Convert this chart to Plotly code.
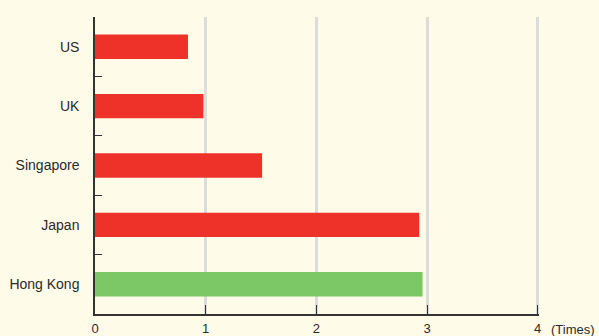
import plotly.graph_objects as go

categories = ["US", "UK", "Singapore", "Japan", "Hong Kong"]
values = [0.84, 0.98, 1.51, 2.93, 2.96]
colors = ["#ee3129", "#ee3129", "#ee3129", "#ee3129", "#7dc866"]
x_ticks = [0, 1, 2, 3, 4]
x_unit = "(Times)"

fig = go.Figure(go.Bar(
    x=values, y=categories, orientation="h",
    marker=dict(color=colors, line=dict(width=0)),
    width=0.41,
))

fig.update_layout(
    width=599, height=336,
    margin=dict(l=95, r=60, t=17, b=22, autoexpand=False),
    paper_bgcolor="#fffbe9", plot_bgcolor="#fffbe9",
    font=dict(family="Liberation Sans, Arial, sans-serif", size=14, color="#2a2a2a"),
    showlegend=False,
    xaxis=dict(
        range=[0, 4.012], tickvals=x_ticks, ticktext=[str(t) for t in x_ticks],
        showgrid=True, gridcolor="#dcdcdc", gridwidth=2.5,
        zeroline=False, showline=True, linecolor="#333", linewidth=1.5,
        ticks="inside", ticklen=9, tickcolor="#333", tickwidth=1.2,
        automargin=False, ticklabelstandoff=2, tickfont=dict(size=13),
        fixedrange=True,
    ),
    yaxis=dict(
        categoryorder="array", categoryarray=categories, autorange="reversed",
        tickson="boundaries", ticks="inside", ticklen=7, tickcolor="#333", tickwidth=1.2,
        showline=True, linecolor="#333", linewidth=1.5, showgrid=False,
        ticklabelstandoff=11, automargin=False,
    ),
    annotations=[dict(
        text=x_unit, x=1.0, xref="paper", xanchor="left", xshift=10,
        y=0, yref="paper", yanchor="top", yshift=-6, showarrow=False,
        font=dict(size=13, color="#2a2a2a"),
    )],
)

fig.write_html("out.html")
